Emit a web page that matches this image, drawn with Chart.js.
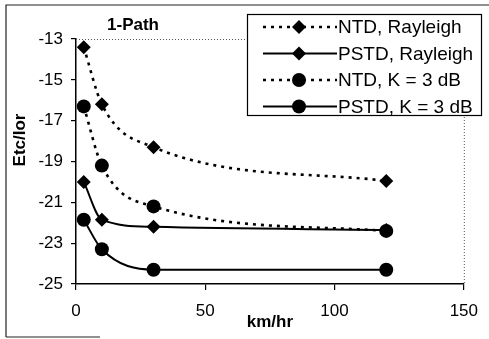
<!DOCTYPE html>
<html>
<head>
<meta charset="utf-8">
<script src="https://cdn.jsdelivr.net/npm/chart.js@4/dist/chart.umd.min.js"></script>
<style>
html, body { margin: 0; padding: 0; background: #fff; }
#wrap { width: 489px; height: 339px; }
</style>
</head>
<body>
<div id="wrap"><canvas id="grafico" width="489" height="339"></canvas></div>
<script>
// dados
var velocidades = [3, 10, 30, 120];
var ntdRayleigh = [-13.4, -16.2, -18.3, -19.95];
var pstdRayleigh = [-20.0, -21.85, -22.2, -22.35];
var ntdK3 = [-16.3, -19.2, -21.2, -22.4];
var pstdK3 = [-21.85, -23.3, -24.3, -24.3];
var nomesSeries = ['NTD, Rayleigh', 'PSTD, Rayleigh', 'NTD, K = 3 dB', 'PSTD, K = 3 dB'];
var ticksX = [0, 50, 100, 150];
var ticksY = [-13, -15, -17, -19, -21, -23, -25];

var fonte = 'Liberation Sans, Arial, Helvetica, sans-serif';
var tracejado = [3, 5];

function pontos(valores){
  return velocidades.map(function(v, i){ return {x: v, y: valores[i]}; });
}

function serie(idx, valores, estilo, pontilhado){
  return {
    label: nomesSeries[idx],
    data: pontos(valores),
    borderColor: '#000',
    backgroundColor: '#000',
    borderWidth: pontilhado ? 2.6 : 2,
    borderDash: pontilhado ? tracejado : [],
    pointStyle: estilo,
    pointRadius: 7,
    pointBorderWidth: 0,
    pointBackgroundColor: '#000',
    cubicInterpolationMode: 'monotone',
    fill: false
  };
}

// desenha marcador na legenda
function marcador(ctx, estilo, x, y){
  ctx.beginPath();
  if (estilo == 'circle'){
    ctx.arc(x, y, 7, 0, Math.PI * 2);
  } else {
    ctx.moveTo(x, y - 7); ctx.lineTo(x + 7, y); ctx.lineTo(x, y + 7); ctx.lineTo(x - 7, y);
    ctx.closePath();
  }
  ctx.fill();
}

var extras = {
  id: 'extras',
  beforeDatasetsDraw: function(chart){
    var ctx = chart.ctx, a = chart.chartArea;
    ctx.save();
    // borda pontilhada da area do grafico
    ctx.strokeStyle = '#555';
    ctx.lineWidth = 1;
    ctx.setLineDash([1, 2]);
    ctx.beginPath();
    ctx.moveTo(a.left, a.top + 0.5); ctx.lineTo(a.right, a.top + 0.5);
    ctx.moveTo(a.right + 0.5, a.top); ctx.lineTo(a.right + 0.5, a.bottom);
    ctx.stroke();
    ctx.restore();
  },
  afterDraw: function(chart){
    var ctx = chart.ctx;
    ctx.save();
    // moldura externa
    ctx.strokeStyle = '#222';
    ctx.lineWidth = 1.2;
    ctx.beginPath();
    ctx.moveTo(6, 337); ctx.lineTo(6, 5); ctx.lineTo(489, 5);
    ctx.moveTo(6, 337); ctx.lineTo(100, 337);
    ctx.stroke();

    // titulo
    ctx.fillStyle = '#000';
    ctx.font = 'bold 17px ' + fonte;
    ctx.textAlign = 'center';
    ctx.textBaseline = 'middle';
    ctx.fillText('1-Path', 133, 25);

    // titulo do eixo y
    ctx.save();
    ctx.translate(20, 140);
    ctx.rotate(-Math.PI / 2);
    ctx.fillText('Etc/Ior', 0, 0);
    ctx.restore();

    // legenda
    var lx = 247, ly = 14, lw = 234, lh = 101;
    ctx.fillStyle = '#fff';
    ctx.fillRect(lx, ly, lw, lh);
    ctx.strokeStyle = '#000';
    ctx.lineWidth = 1.2;
    ctx.strokeRect(lx + 0.5, ly + 0.5, lw, lh);
    ctx.font = '19px ' + fonte;
    ctx.textAlign = 'left';
    chart.data.datasets.forEach(function(ds, i){
      var cy = ly + 13 + i * 26.5;
      ctx.strokeStyle = '#000';
      ctx.fillStyle = '#000';
      ctx.lineWidth = ds.borderWidth;
      ctx.setLineDash(ds.borderDash);
      ctx.beginPath();
      ctx.moveTo(263, cy); ctx.lineTo(337, cy);
      ctx.stroke();
      ctx.setLineDash([]);
      marcador(ctx, ds.pointStyle, 299, cy);
      ctx.fillText(ds.label, 338, cy + 1);
    });
    ctx.restore();
  }
};

var ctx = document.getElementById('grafico').getContext('2d');
var grafico = new Chart(ctx, {
  type: 'line',
  data: {
    datasets: [
      serie(0, ntdRayleigh, 'rectRot', true),
      serie(1, pstdRayleigh, 'rectRot', false),
      serie(2, ntdK3, 'circle', true),
      serie(3, pstdK3, 'circle', false)
    ]
  },
  options: {
    responsive: false,
    devicePixelRatio: 1,
    animation: false,
    layout: { padding: { top: 39, right: 16, left: 0, bottom: 0 } },
    plugins: {
      legend: { display: false },
      title: { display: false },
      tooltip: { enabled: false }
    },
    scales: {
      x: {
        type: 'linear',
        min: 0, max: 150,
        afterBuildTicks: function(s){ s.ticks = ticksX.map(function(v){ return {value: v}; }); },
        afterFit: function(s){ s.height = 55; },
        grid: { display: true, drawOnChartArea: false, drawTicks: true, tickLength: 6, color: '#000', lineWidth: 1.2 },
        border: { display: true, color: '#000', width: 1.5 },
        ticks: { color: '#000', padding: 11, font: { family: fonte, size: 17 } },
        title: { display: true, text: 'km/hr', color: '#000', padding: { top: 0, bottom: 6 }, font: { family: fonte, size: 17, weight: 'bold' } }
      },
      y: {
        type: 'linear',
        min: -25, max: -13,
        afterBuildTicks: function(s){ s.ticks = ticksY.map(function(v){ return {value: v}; }); },
        afterFit: function(s){ s.width = 76; },
        grid: { display: true, drawOnChartArea: false, drawTicks: true, tickLength: 5, color: '#000', lineWidth: 1.2 },
        border: { display: true, color: '#000', width: 1.5 },
        ticks: { color: '#000', padding: 8, font: { family: fonte, size: 17 } }
      }
    }
  },
  plugins: [extras]
});
</script>
</body>
</html>
